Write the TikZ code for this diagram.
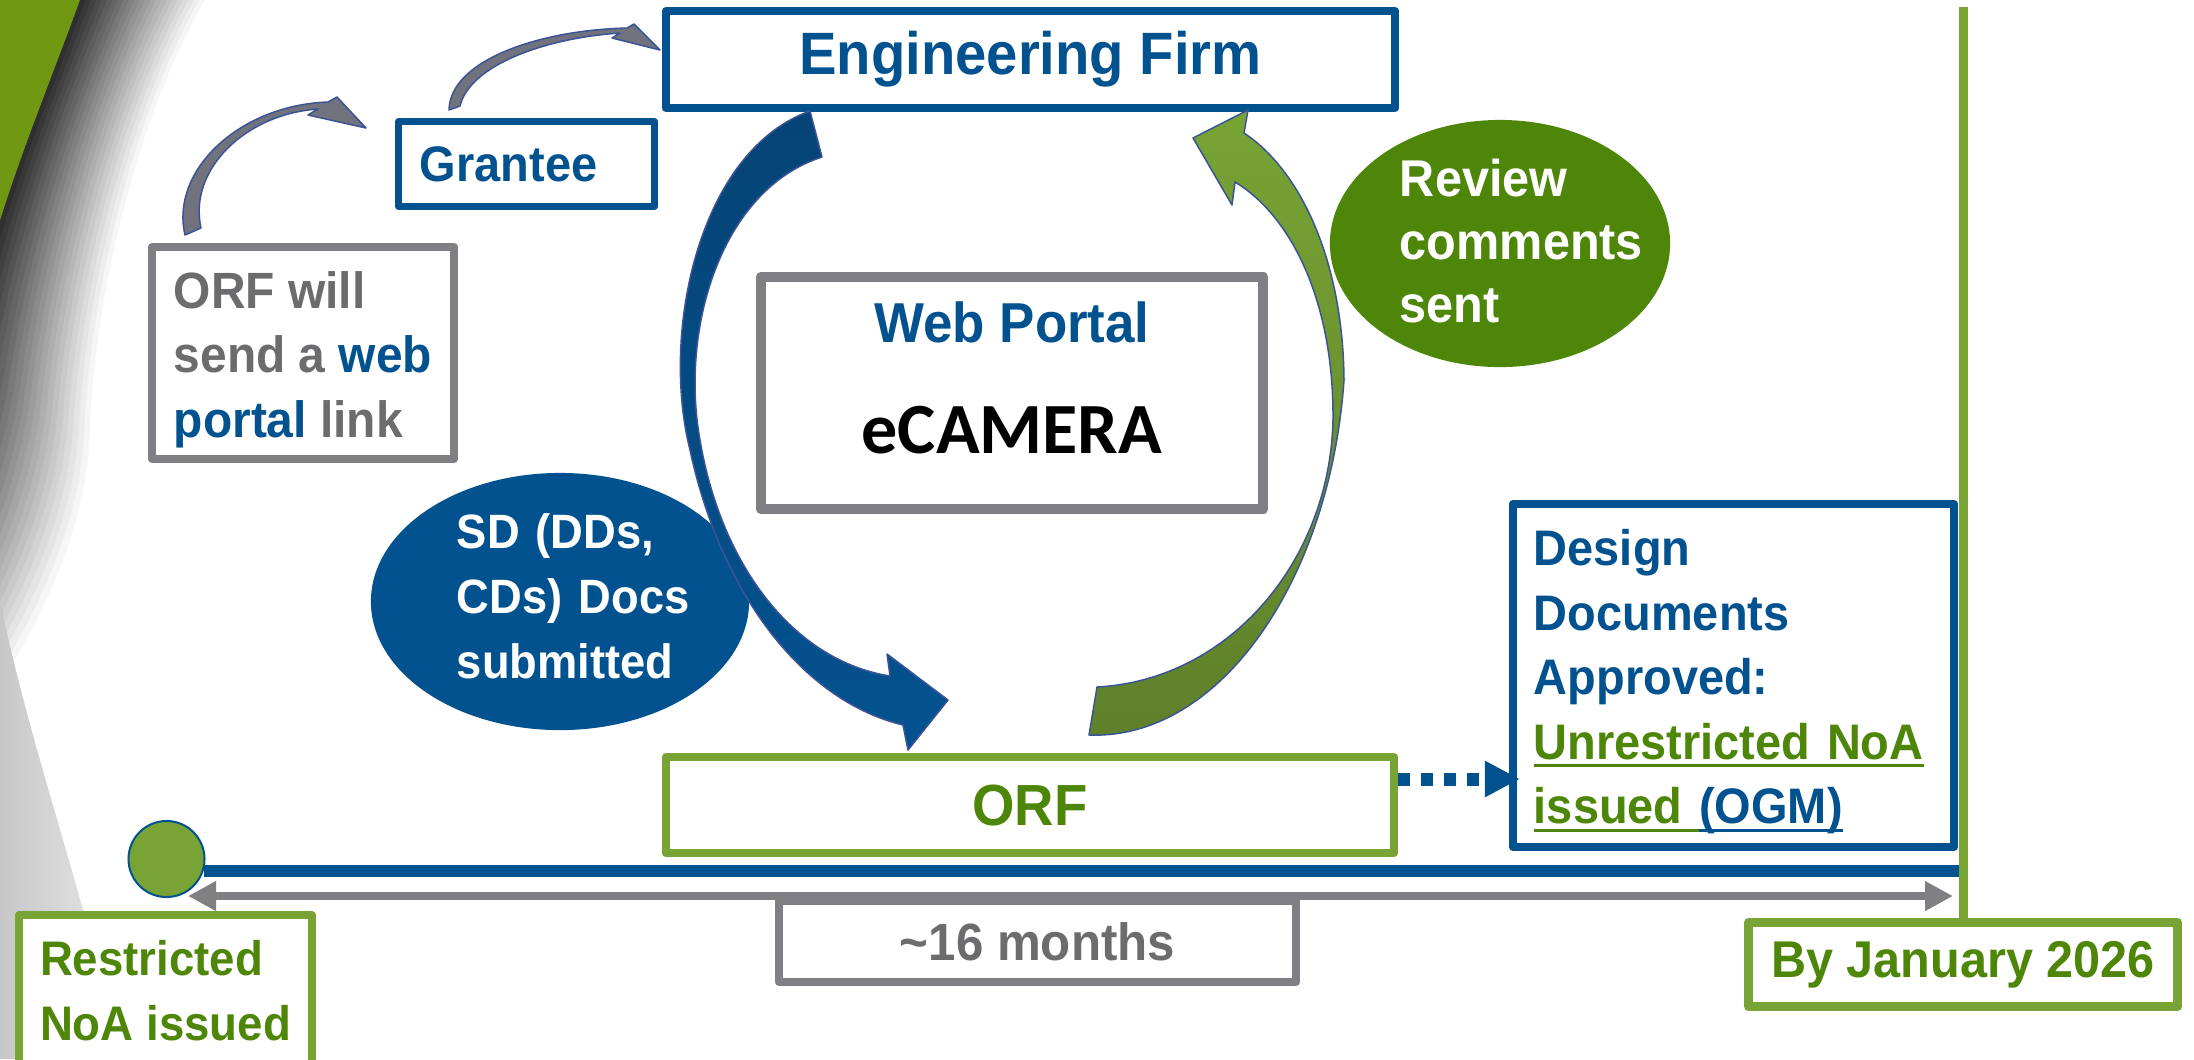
\documentclass[tikz,border=0pt]{standalone}
\usepackage{fontspec}
\setmainfont{Liberation Sans}[FakeStretch=0.94]
\newfontfamily\camfont{Carlito}
\newcommand\souligne[1]{\setbox0\hbox{#1}\leavevmode\rlap{\rule[-2.4pt]{\wd0}{0.9pt}}\box0}
\usetikzlibrary{shapes.geometric, arrows.meta, positioning, calc}
\definecolor{bleuEF}{RGB}{3,82,144}
\definecolor{bleuNuit}{RGB}{5,68,118}
\definecolor{bordFleche}{RGB}{60,84,150}
\definecolor{vertFonce}{RGB}{78,134,10}
\definecolor{vertClair}{RGB}{119,164,52}
\definecolor{vertOlive}{RGB}{94,128,42}
\definecolor{vertSwoosh}{RGB}{112,152,18}
\definecolor{grisBord}{RGB}{128,128,132}
\definecolor{grisTexte}{RGB}{108,108,110}
\definecolor{grisFleche}{RGB}{112,114,126}

\begin{document}
\begin{tikzpicture}[x=0.01cm,y=-0.01cm]
            % Styles (MODIFIABLES)
            \def\EpaisseurBoite{0.08cm}
            \tikzstyle{boite}=[rectangle,draw,fill=white,inner sep=0pt,line join=round,line width=\EpaisseurBoite]
            \tikzstyle{boiteBleue}=[boite,draw=bleuEF]
            \tikzstyle{boiteGrise}=[boite,draw=grisBord]
            \tikzstyle{boiteVerte}=[boite,draw=vertClair]
            \tikzstyle{bulle}=[ellipse,inner sep=0pt,text=white,align=left]
            \tikzstyle{courbe}=[draw=bordFleche,line width=0.015cm,line join=round]
            \tikzstyle{pointille}=[bleuEF,line width=0.13cm,dash pattern=on 0.12cm off 0.11cm,-{Triangle[length=0.35cm,width=0.34cm]}]
            \tikzstyle{duree}=[grisBord,line width=0.085cm,{Triangle[length=0.28cm,width=0.28cm]}-{Triangle[length=0.28cm,width=0.28cm]}]
            % Fond de la diapositive
            \useasboundingbox (0,0) rectangle (2194,1059);
            \clip (0,0) rectangle (2194,1059);
            \fill[white] (0,0) rectangle (2194,1059);
            \foreach \i in {0,...,24}{
              \pgfmathsetmacro\t{1-\i/24}
              \pgfmathsetmacro\c{85*\i/24}
              \fill[black!\c] (-200,0) -- ($(80,0)!\t!(210,0)$)
                .. controls ($(40,110)!\t!(140,120)$) and ($(0,200)!\t!(100,300)$) .. ($(-30,330)!\t!(95,430)$)
                .. controls ($(-60,480)!\t!(95,540)$) and ($(-120,600)!\t!(40,640)$) .. ($(-200,700)!\t!(-40,760)$)
                -- (-200,1059) -- cycle;
            }
            \shade[left color=black!22,right color=black!9] (0,600) .. controls (20,700) and (55,810) .. (80,899)
              .. controls (95,950) and (110,1000) .. (120,1059) -- (0,1059) -- cycle;
            \fill[vertSwoosh] (-200,0) -- (80,0) .. controls (40,110) and (0,200) .. (-30,330) -- cycle;
            % Noeuds (MODIFIABLES)
            \node[boiteBleue,minimum width=7.29cm,minimum height=0.97cm,text=bleuEF,font=\bfseries\fontsize{17}{20}\selectfont] (firme) at (1030.5,59.5) {Engineering Firm};
            \node[boiteBleue,line width=0.07cm,minimum width=2.56cm,minimum height=0.85cm,text width=2.13cm,align=left,text=bleuEF,font=\bfseries\fontsize{14.2}{17}\selectfont] (beneficiaire) at (526.5,164) {Grantee};
            \node[boiteGrise,minimum width=3.02cm,minimum height=2.12cm,align=left,text=grisTexte,font=\bfseries\fontsize{14.5}{18.35}\selectfont,text height=1.8cm,text depth=0.12cm] (lien) at (303,353) {ORF will\\send a \textcolor{bleuEF}{web}\\\textcolor{bleuEF}{portal} link};
            \node[boiteGrise,line width=0.1cm,minimum width=5.025cm,minimum height=2.32cm,align=center,text=bleuEF,font=\bfseries\fontsize{16}{31.3}\selectfont,text height=1.4cm,text depth=0.2cm] (portail) at (1012,393) {Web Portal\\{\camfont\fontsize{20.5}{24}\selectfont\color{black}eCAMERA}};
            \node[bulle,fill=vertFonce,minimum width=3.4cm,minimum height=2.47cm,text width=2.0cm,font=\bfseries\fontsize{14.7}{17.9}\selectfont,text height=0.3cm,text depth=1.23cm] (commentaires) at (1500,243.5) {Review\\\mbox{comments}\\sent};
            \node[bulle,fill=bleuEF,minimum width=3.78cm,minimum height=2.57cm,text width=2.06cm,font=\bfseries\fontsize{13.7}{18.35}\selectfont,text height=0.3cm,text depth=1.35cm] (soumission) at (560,601.5) {SD~(DDs,\\CDs)~Docs\\\mbox{submitted}};
            \node[boiteVerte,minimum width=7.28cm,minimum height=0.96cm,text=vertFonce,font=\bfseries\fontsize{16.5}{19}\selectfont] (orf) at (1030,805) {ORF};
            \node[boiteBleue,minimum width=4.41cm,minimum height=3.43cm,text width=3.99cm,align=left,text=bleuEF,font=\bfseries\fontsize{14.2}{18.3}\selectfont,text height=0.4cm,text depth=2.59cm] (approbation) at (1733.5,675.5) {Design\\Documents\\Approved:\\\textcolor{vertFonce}{\souligne{Unrestricted~NoA}}\\\textcolor{vertFonce}{\souligne{issued\ }}\textcolor{bleuEF}{\souligne{(OGM)}}};
            \node[boiteVerte,minimum width=2.93cm,minimum height=1.5cm,align=left,text=vertFonce,font=\bfseries\fontsize{13.8}{18.5}\selectfont,text height=1.1cm,text depth=0.1cm] (restreint) at (165.5,990) {Restricted\\NoA issued};
            \node[boiteGrise,minimum width=5.17cm,minimum height=0.81cm,text=grisTexte,font=\bfseries\fontsize{14.9}{17}\selectfont] (mois) at (1037.5,941.5) {\textasciitilde16 months};
            \node[boiteVerte,line width=0.09cm,minimum width=4.29cm,minimum height=0.84cm,text=vertFonce,font=\bfseries\fontsize{14.7}{17}\selectfont] (janvier) at (1963,964.5) {By January 2026};
            \node[circle,fill=vertClair,draw=bleuEF,line width=0.02cm,minimum size=0.76cm,inner sep=0pt] (jalon) at (166.5,859) {};
            \coordinate (haut) at (1963,7);
            \coordinate (debut) at (188,896);
            \coordinate (fin) at (1953,896);
            \coordinate (depart) at ($(orf.north east)!0.25!(orf.south east)$);
            % Arcs (MODIFIABLES)
            \draw[duree] (debut) -- (fin);
            \draw[bleuEF,line width=0.115cm] (jalon.-18) -- (jalon.-18 -| haut);
            \draw[vertClair,line width=0.09cm] (haut) -- (janvier.north);
            \draw[pointille,shorten >=-0.11cm] (depart) -- (depart -| approbation.west);
            % lien -> beneficiaire -> firme
            \filldraw[fill=grisFleche,courbe] (185,235) .. controls (170,170) and (240,105) .. (328,102)
              -- (337,97) -- (366,128) -- (308,115) -- (318,109)
              .. controls (245,114) and (188,170) .. (201,228) -- cycle;
            \filldraw[fill=grisFleche,courbe] (449,110) .. controls (450,60) and (540,30) .. (627,28)
              -- (634,24) -- (660,50) -- (612,38) -- (620,33)
              .. controls (545,38) and (470,65) .. (460,106) -- cycle;
            % firme -> orf
            \shade[top color=bleuNuit,bottom color=bleuEF,courbe]
              (810,111) .. controls (700,150) and (660,330) .. (690,450)
              .. controls (720,590) and (800,700) .. (903,725)
              -- (908,750) -- (948,700) -- (887,654) -- (890,676)
              .. controls (790,660) and (720,560) .. (700,440)
              .. controls (680,330) and (720,190) .. (822,157) -- cycle;
            % orf -> firme
            \shade[top color=vertClair,bottom color=vertOlive,courbe]
              (1089,735) .. controls (1220,740) and (1330,580) .. (1344,380)
              .. controls (1343,260) and (1300,170) .. (1244,133)
              -- (1248,110) -- (1193,138) -- (1232,205) -- (1235,182)
              .. controls (1290,215) and (1334,300) .. (1333,420)
              .. controls (1330,560) and (1230,680) .. (1097,687) -- cycle;
\end{tikzpicture}
\end{document}
